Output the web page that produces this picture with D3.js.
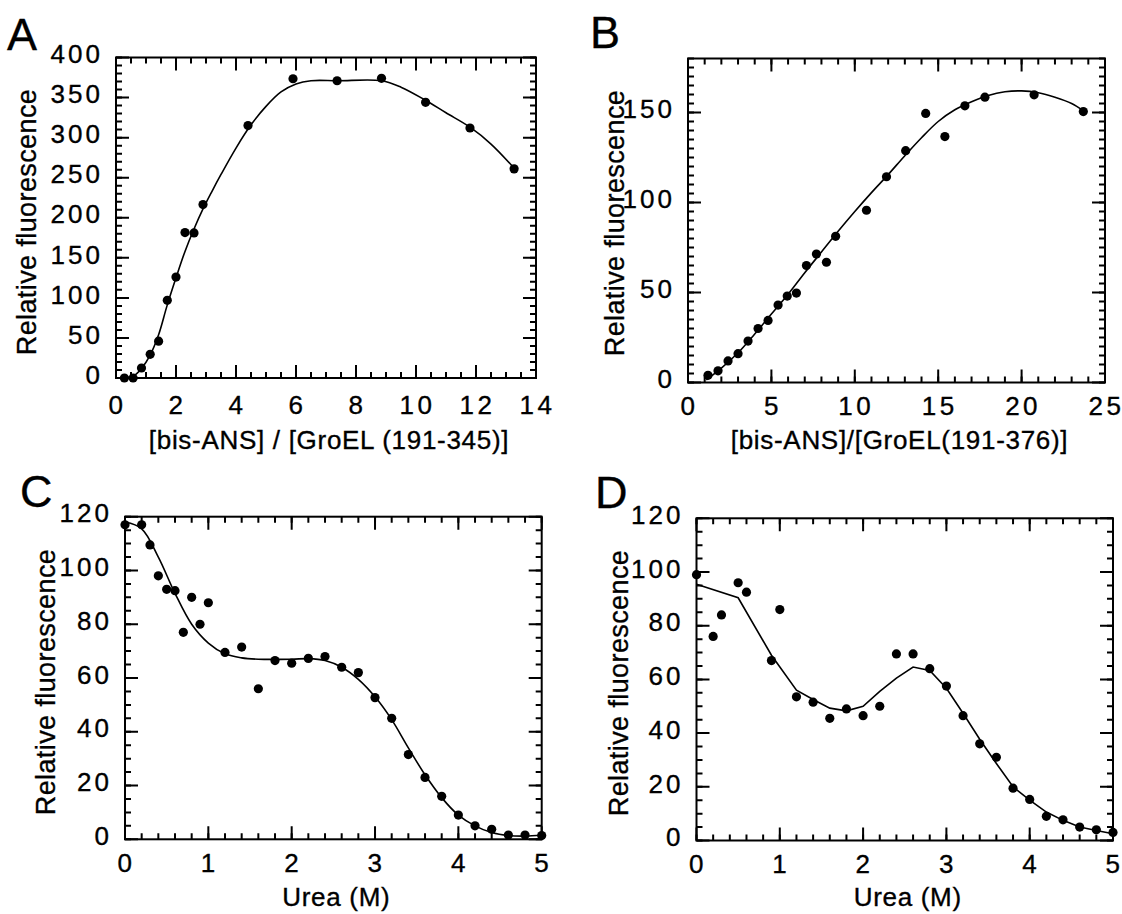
<!DOCTYPE html>
<html>
<head>
<meta charset="utf-8">
<script src="https://cdn.jsdelivr.net/npm/d3@7"></script>
<style>
body{margin:0;background:#fff}
svg{display:block}
text{font-family:"Liberation Sans",Arial,Helvetica,sans-serif;fill:#000;stroke:#000;stroke-width:0.35px}
</style>
</head>
<body>
<svg id="fig" width="1122" height="914"></svg>
<script>
// A: bis-ANS titration of GroEL(191-345)
var aX=[0.28,0.57,0.85,1.14,1.42,1.71,2.0,2.3,2.6,2.9,4.4,5.9,7.37,8.85,10.32,11.8,13.27];
var aY=[0,0,12.5,29.5,46,97,126,181.5,181,216.5,315,373.5,371,374,344,312,261];
var aFitX=[0.28,0.6,0.85,1.13,1.42,1.7,2.0,2.3,2.6,2.9,3.2,3.5,4.0,4.5,5.0,5.5,6.0,6.5,7.4,8.85,9.5,10.3,11,11.8,12.5,13.27];
var aFitY=[0,3,12,28,54,90,125,158,186,211,233,254,287,316,339,357,367,371,371,371,363,347,331,313,292,262];

// B: bis-ANS titration of GroEL(191-376)
var bX=[1.2,1.8,2.4,3.0,3.6,4.2,4.8,5.4,5.95,6.5,7.1,7.7,8.3,8.85,10.7,11.9,13.05,14.25,15.4,16.6,17.8,20.75,23.7];
var bY=[4,6.5,12,16,23,30,34.5,43,48,49.7,65,71.4,66.8,81.2,95.7,114.3,128.8,149.5,136.6,153.7,158.5,159.8,150.5];
var bFitX=[1.1,2,3,4,5,6,7,8,9,10,11,12,13,14,15,16,17,18,19,20,21,22,23,23.7];
var bFitY=[1.5,8,16.5,27,38,49,61,72.5,84,95,105.5,115.5,126,136,145,151.5,156,159.5,161.5,162,161,158.5,155,151];

// C: urea denaturation, GroEL(191-345)
var cX=[0,0.2,0.3,0.4,0.5,0.6,0.7,0.8,0.9,1.0,1.2,1.4,1.6,1.8,2.0,2.2,2.4,2.6,2.8,3.0,3.2,3.4,3.6,3.8,4.0,4.2,4.4,4.6,4.8,5.0];
var cY=[117,117,109.5,98,93,92.5,77,90,80,88,69.5,71.5,56,66.5,65.5,67.3,68,64,62,52.7,45,31.5,23,16,9,5,3.7,1.6,1.6,1.4];
var cFitX=[0,0.2,0.4,0.6,0.8,1.0,1.2,1.4,1.6,2.0,2.2,2.4,2.6,2.8,3.0,3.2,3.4,3.6,3.8,4.0,4.2,4.4,4.6,4.8,5.0];
var cFitY=[118,115.5,105,91.5,80,73,69,67.5,67,67,67.2,66.5,64,59.5,53,44.5,34,24,15.5,9,5,2.5,1.4,1.2,1.5];

// D: urea denaturation, GroEL(191-376)
var dX=[0,0.2,0.3,0.5,0.6,0.9,1.0,1.2,1.4,1.6,1.8,2.0,2.2,2.4,2.6,2.8,3.0,3.2,3.4,3.6,3.8,4.0,4.2,4.4,4.6,4.8,5.0];
var dY=[99,76,84,96,92.5,67,86,53.5,51.5,45.5,49,46.5,50,69.5,69.5,64,57.5,46.5,36,31,19.5,15.3,9,7.7,5,4,3];
var dFitX=[0,0.5,0.9,1.2,1.4,1.6,1.8,2.0,2.2,2.4,2.6,2.8,3.0,3.2,3.4,3.6,3.8,4.0,4.2,4.4,4.6,4.8,5.0];
var dFitY=[95.4,90.4,69,56,52.5,49.3,48.3,50,55.5,60.5,64.6,63.3,56.7,47.4,37.7,28.7,20,15,10.6,7.5,5,3.7,2.5];

var yTitle="Relative fluorescence";

var svg=d3.select("#fig");

function ticksFrom(max,step){
  return d3.range(0,max+step/2,step)
    .map(function(v){return +v.toFixed(4);})
    .filter(function(v){return v<=max+1e-9;});
}

function panel(p){
  var x=d3.scaleLinear().domain([0,p.xMax]).range([p.left,p.right]);
  var y=d3.scaleLinear().domain([0,p.yMax]).range([p.bottom,p.top]);
  var g=svg.append("g");

  var xMaj=ticksFrom(p.xMax,p.xMajor), xMin=ticksFrom(p.xMax,p.xMinor);
  var yMaj=ticksFrom(p.yMax,p.yMajor), yMin=ticksFrom(p.yMax,p.yMinor);
  var big=13, small=6;

  // tick marks pointing into the frame on all four sides
  function tickPathX(vals,len){
    var pa=d3.path();
    vals.forEach(function(v){
      var px=x(v);
      pa.moveTo(px,p.bottom); pa.lineTo(px,p.bottom-len);
      pa.moveTo(px,p.top);    pa.lineTo(px,p.top+len);
    });
    return pa.toString();
  }
  function tickPathY(vals,len){
    var pa=d3.path();
    vals.forEach(function(v){
      var py=y(v);
      pa.moveTo(p.left,py);  pa.lineTo(p.left+len,py);
      pa.moveTo(p.right,py); pa.lineTo(p.right-len,py);
    });
    return pa.toString();
  }
  [tickPathX(xMin,small),tickPathX(xMaj,big),tickPathY(yMin,small),tickPathY(yMaj,big)].forEach(function(d){
    g.append("path").attr("d",d).attr("fill","none").attr("stroke","#000").attr("stroke-width",2);
  });

  // tick labels from d3 axes
  var xb=g.append("g").attr("transform","translate(0,"+p.bottom+")")
    .call(d3.axisBottom(x).tickValues(xMaj).tickSize(0).tickPadding(p.xPad).tickFormat(d3.format("d")));
  var yl=g.append("g").attr("transform","translate("+p.left+",0)")
    .call(d3.axisLeft(y).tickValues(yMaj).tickSize(0).tickPadding(13).tickFormat(d3.format("d")));
  [xb,yl].forEach(function(a){
    a.select(".domain").remove();
    a.selectAll("line").remove();
    a.attr("font-size",26).attr("font-family",null);
  });
  xb.selectAll("text").style("letter-spacing","3.5px").attr("dx","1px");
  yl.selectAll("text").style("letter-spacing","3px").attr("dy","0.2em");

  // frame
  g.append("rect")
    .attr("x",p.left).attr("y",p.top)
    .attr("width",p.right-p.left).attr("height",p.bottom-p.top)
    .attr("fill","none").attr("stroke","#000").attr("stroke-width",2);

  // fitted line
  g.append("path")
    .datum(d3.zip(p.fitX,p.fitY))
    .attr("fill","none").attr("stroke","#000").attr("stroke-width",1.6)
    .attr("d",d3.line()
      .curve(p.smooth ? d3.curveCatmullRom.alpha(0.5) : d3.curveLinear)
      .x(function(d){return x(d[0]);})
      .y(function(d){return y(d[1]);}));

  // data points
  g.selectAll("circle.pt")
    .data(d3.zip(p.xs,p.ys))
    .enter().append("circle")
    .attr("class","pt")
    .attr("cx",function(d){return x(d[0]);})
    .attr("cy",function(d){return y(d[1]);})
    .attr("r",4.6)
    .attr("fill","#000");

  // axis titles
  g.append("text")
    .attr("x",(p.left+p.right)/2+3).attr("y",p.xTitleY)
    .attr("text-anchor","middle").attr("font-size",26)
    .style("letter-spacing","0.7px")
    .text(p.xTitle);
  g.append("text")
    .attr("transform","translate("+p.yTitleX+","+p.yTitleC+") rotate(-90)")
    .attr("text-anchor","middle").attr("font-size",27)
    .style("letter-spacing","0.4px")
    .text(yTitle);

  // panel letter
  g.append("text")
    .attr("x",p.letterX).attr("y",p.letterY)
    .attr("font-size",45)
    .text(p.letter);
}

panel({letter:"A",letterX:7,letterY:50,
  left:116,right:536,top:57.5,bottom:378,
  xMax:14,xMajor:2,xMinor:0.5,yMax:400,yMajor:50,yMinor:10,xPad:18,
  xs:aX,ys:aY,fitX:aFitX,fitY:aFitY,smooth:true,
  xTitle:"[bis-ANS] / [GroEL (191-345)]",xTitleY:449,yTitleX:36,yTitleC:222});

panel({letter:"B",letterX:590,letterY:48,
  left:688,right:1105,top:58.5,bottom:382.5,
  xMax:25,xMajor:5,xMinor:1,yMax:180,yMajor:50,yMinor:5,xPad:14,
  xs:bX,ys:bY,fitX:bFitX,fitY:bFitY,smooth:true,
  xTitle:"[bis-ANS]/[GroEL(191-376)]",xTitleY:449,yTitleX:624,yTitleC:223});

panel({letter:"C",letterX:20,letterY:507,
  left:125,right:541.7,top:516.7,bottom:839.3,
  xMax:5,xMajor:1,xMinor:0.2,yMax:120,yMajor:20,yMinor:5,xPad:14,
  xs:cX,ys:cY,fitX:cFitX,fitY:cFitY,smooth:true,
  xTitle:"Urea (M)",xTitleY:906,yTitleX:55,yTitleC:682});

panel({letter:"D",letterX:595,letterY:508,
  left:696.5,right:1113,top:518.3,bottom:840.5,
  xMax:5,xMajor:1,xMinor:0.2,yMax:120,yMajor:20,yMinor:5,xPad:14,
  xs:dX,ys:dY,fitX:dFitX,fitY:dFitY,smooth:false,
  xTitle:"Urea (M)",xTitleY:906,yTitleX:628,yTitleC:683});
</script>
</body>
</html>
